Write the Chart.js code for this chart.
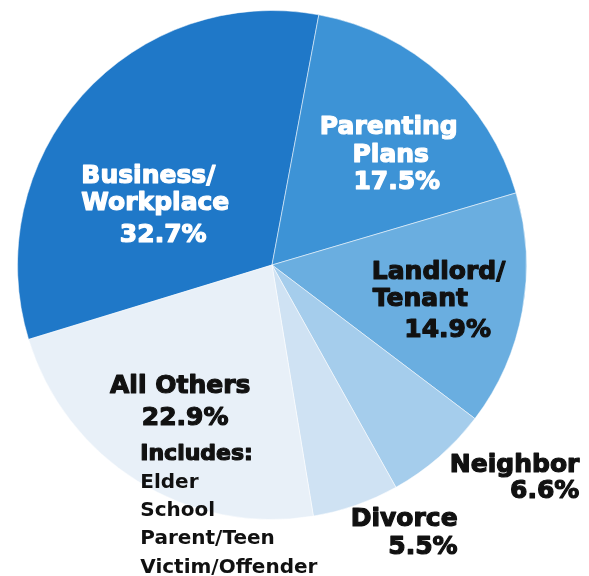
<!DOCTYPE html>
<html>
<head>
<meta charset="utf-8">
<script src="https://cdn.jsdelivr.net/npm/chart.js@4/dist/chart.umd.min.js"></script>
<style>
  html, body { margin: 0; padding: 0; background: #fff; }
  #wrap { width: 589px; height: 576px; position: relative; }
</style>
</head>
<body>
<div id="wrap"><canvas id="pieChart"></canvas></div>
<script>
// Chart data
const categories = ['Business/Workplace', 'Parenting Plans', 'Landlord/Tenant', 'Neighbor', 'Divorce', 'All Others'];
const shares = [32.7, 17.5, 14.9, 6.6, 5.5, 22.9];
const otherTypes = ['Elder', 'School', 'Parent/Teen', 'Victim/Offender'];
const sliceColors = ['#1f78c8', '#3d93d6', '#6aaee0', '#a5cdec', '#cfe2f3', '#e8f0f8'];

const pct = i => shares[i].toFixed(1) + '%';

// label layout, in pixels of the original picture (pie centre 272,265, radius 255)
const BIG = 'bold 25px "DejaVu Sans"';
const MID = 'bold 22px "DejaVu Sans"';
const SMALL = 'bold 20px "DejaVu Sans"';
const WHITE = '#ffffff';
const BLACK = '#111111';

const labelLines = [
    { t: 'Business/', x: 81, y: 183, a: 'left', f: BIG, c: WHITE },
    { t: 'Workplace', x: 81, y: 210, a: 'left', f: BIG, c: WHITE },
    { t: pct(0), x: 163, y: 242, a: 'center', f: BIG, c: WHITE },
    { t: 'Parenting', x: 389, y: 134, a: 'center', f: BIG, c: WHITE },
    { t: 'Plans', x: 391, y: 162, a: 'center', f: BIG, c: WHITE },
    { t: pct(1), x: 397, y: 189, a: 'center', f: BIG, c: WHITE },
    { t: 'Landlord/', x: 372, y: 279, a: 'left', f: BIG, c: BLACK },
    { t: 'Tenant', x: 373, y: 306, a: 'left', f: BIG, c: BLACK },
    { t: pct(2), x: 448, y: 337, a: 'center', f: BIG, c: BLACK },
    { t: 'Neighbor', x: 580, y: 472, a: 'right', f: BIG, c: BLACK },
    { t: pct(3), x: 580, y: 498, a: 'right', f: BIG, c: BLACK },
    { t: 'Divorce', x: 458, y: 527, a: 'right', f: BIG, c: BLACK },
    { t: pct(4), x: 458, y: 555, a: 'right', f: BIG, c: BLACK },
    { t: 'All Others', x: 180, y: 393, a: 'center', f: BIG, c: BLACK },
    { t: pct(5), x: 185, y: 425, a: 'center', f: BIG, c: BLACK },
    { t: 'Includes:', x: 140, y: 460, a: 'left', f: MID, c: BLACK }
];
otherTypes.forEach((t, i) => {
    labelLines.push({ t: t, x: 140, y: 488 + i * 28.5, a: 'left', f: SMALL, c: BLACK, thin: true });
});

// draw the slice labels relative to the pie centre
const pieLabels = {
    id: 'pieLabels',
    afterDraw(chart) {
        const arc = chart.getDatasetMeta(0).data[0];
        if (!arc) return;
        const k = arc.outerRadius / 255;
        const ctx = chart.ctx;
        ctx.save();
        ctx.textBaseline = 'alphabetic';
        ctx.lineJoin = 'round';
        labelLines.forEach(l => {
            const x = arc.x + (l.x - 272) * k;
            const y = arc.y + (l.y - 265) * k;
            ctx.font = l.f;
            ctx.fillStyle = l.c;
            ctx.textAlign = l.a;
            if (!l.thin) {
                // heavier look, like the black-weight type of the original
                ctx.strokeStyle = l.c;
                ctx.lineWidth = 1.2;
                ctx.strokeText(l.t, x, y);
            }
            ctx.fillText(l.t, x, y);
        });
        ctx.restore();
    }
};

new Chart(document.getElementById('pieChart'), {
    type: 'pie',
    data: {
        labels: categories,
        datasets: [{
            data: shares,
            backgroundColor: sliceColors,
            borderColor: 'rgba(255,255,255,0.5)',
            borderWidth: 1
        }]
    },
    options: {
        responsive: true,
        maintainAspectRatio: false,
        animation: false,
        rotation: -107,
        layout: {
            padding: { left: 17, right: 62, top: 10, bottom: 56 }
        },
        plugins: {
            legend: { display: false },
            tooltip: { enabled: false }
        }
    },
    plugins: [pieLabels]
});
</script>
</body>
</html>
